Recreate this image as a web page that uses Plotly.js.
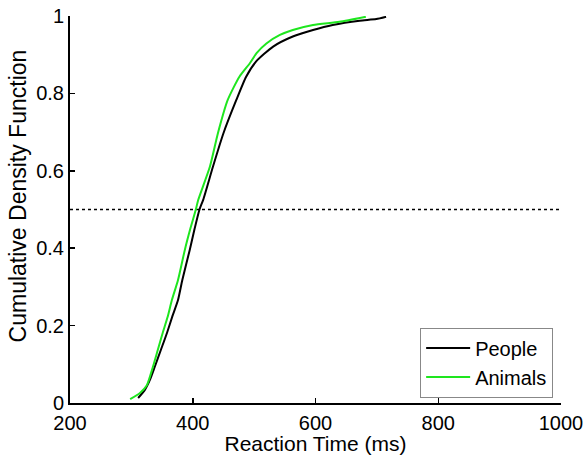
<!DOCTYPE html>
<html>
<head>
<meta charset="utf-8">
<script src="https://cdn.plot.ly/plotly-3.0.1.min.js"></script>
<style>html,body{margin:0;padding:0;background:#fff;}#chart{width:585px;height:455px;}</style>
</head>
<body>
<div id="chart"></div>
<script>
const peopleX = [311, 322, 330, 338, 348, 358, 367, 376, 383, 395, 403, 411, 417, 433, 450, 471, 487, 503, 531, 563, 596, 628, 672, 699, 715];
const peopleY = [0.013, 0.034, 0.059, 0.093, 0.137, 0.181, 0.225, 0.266, 0.318, 0.395, 0.45, 0.50, 0.525, 0.611, 0.697, 0.783, 0.843, 0.882, 0.921, 0.947, 0.964, 0.977, 0.988, 0.992, 0.998];
const animalsX = [298, 314, 325, 335, 343, 351, 359, 366, 376, 387, 396, 405, 409, 428, 441, 457, 476, 493, 504, 520, 542, 563, 596, 639, 682];
const animalsY = [0.01, 0.026, 0.045, 0.093, 0.137, 0.181, 0.222, 0.266, 0.318, 0.395, 0.45, 0.50, 0.525, 0.611, 0.697, 0.783, 0.843, 0.878, 0.904, 0.929, 0.951, 0.964, 0.977, 0.985, 0.998];
const refX = [200, 1000];
const refY = [0.5, 0.5];
const xTicks = [200, 400, 600, 800, 1000];
const yTicks = [0, 0.2, 0.4, 0.6, 0.8, 1];
const yTickText = ['0', '0.2', '0.4', '0.6', '0.8', '1'];

const font = 'Liberation Sans, Arial, sans-serif';
const traces = [
  {x: refX, y: refY, mode: 'lines', line: {color: '#000', width: 1.5, dash: 'dot'}, showlegend: false, hoverinfo: 'skip'},
  {x: peopleX, y: peopleY, mode: 'lines', name: 'People', line: {color: '#000000', width: 2, shape: 'spline', smoothing: 0.6}},
  {x: animalsX, y: animalsY, mode: 'lines', name: 'Animals', line: {color: '#1ee61e', width: 2, shape: 'spline', smoothing: 0.6}}
];
const layout = {
  width: 585, height: 455,
  margin: {l: 70, r: 24, t: 16, b: 52},
  paper_bgcolor: '#fff', plot_bgcolor: '#fff',
  font: {family: font, size: 20, color: '#000'},
  xaxis: {
    range: [200, 1000], tickvals: xTicks, ticks: 'inside', ticklen: 5, tickwidth: 1.5, tickcolor: '#000',
    showline: true, linecolor: '#000', linewidth: 2, showgrid: false, zeroline: false,
    tickfont: {size: 20, family: font}, ticklabelstandoff: 1,
    title: {text: 'Reaction Time (ms)', font: {size: 21, family: font}, standoff: 2}
  },
  yaxis: {
    range: [0, 1], tickvals: yTicks, ticktext: yTickText, ticks: 'inside', ticklen: 5, tickwidth: 1.5, tickcolor: '#000',
    showline: true, linecolor: '#000', linewidth: 2, showgrid: false, zeroline: false,
    tickfont: {size: 20, family: font}
  },
  annotations: [{
    text: 'Cumulative Density Function', textangle: -90, showarrow: false,
    xref: 'paper', yref: 'paper', x: -0.105, y: 0.535, xanchor: 'center', yanchor: 'middle',
    font: {size: 23, family: font, color: '#000'}
  }],
  legend: {
    x: 0.984, y: 0.014, xanchor: 'right', yanchor: 'bottom',
    bordercolor: '#888', borderwidth: 1, bgcolor: '#fff',
    font: {size: 20, family: font}, tracegroupgap: 0, itemwidth: 44
  },
  showlegend: true
};
Plotly.newPlot('chart', traces, layout, {staticPlot: true, displayModeBar: false});
</script>
</body>
</html>
